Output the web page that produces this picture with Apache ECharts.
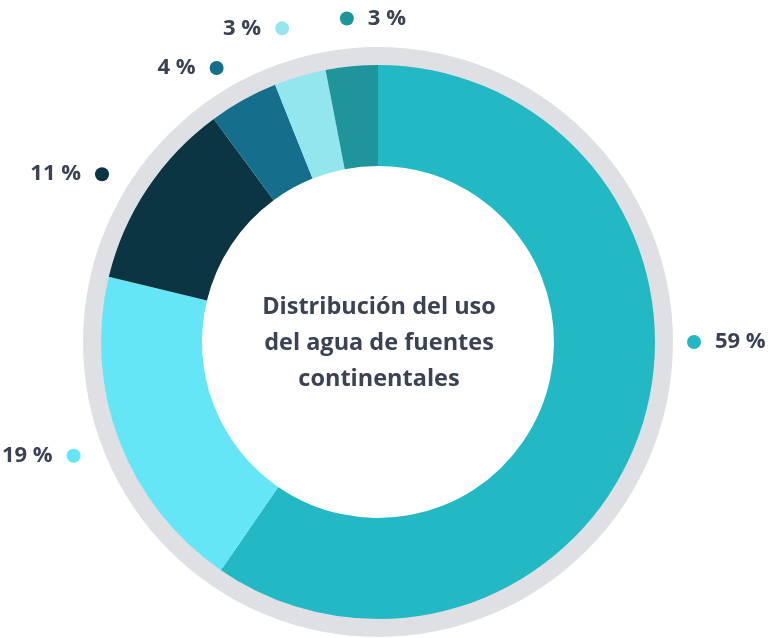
<!DOCTYPE html>
<html>
<head>
<meta charset="utf-8">
<script src="https://cdn.jsdelivr.net/npm/echarts@6/dist/echarts.min.js"></script>
<style>
html,body{margin:0;padding:0;background:#fff;}
#c{width:768px;height:638px;}
</style>
</head>
<body>
<div id="c"></div>
<script>
// ---- data ----
const categories = ['Uso 1', 'Uso 2', 'Uso 3', 'Uso 4', 'Uso 5', 'Uso 6'];
const values = [59, 19, 11, 4, 3, 3];
const colors = ['#22B8C4', '#64E6F7', '#0B3543', '#166E8D', '#93E6EE', '#1F959B'];
const centerTitle = 'Distribución del uso\ndel agua de fuentes\ncontinentales';

// ---- layout config (label placement around the ring) ----
const CX = 378, CY = 342;
const labelRadii = [316, 325, 323, 318, 328, 325];
const labelAngles = [0, 200.5, 148.7, 120.5, 107, 95.5];   // degrees, counter-clockwise from +x
const labelTextRight = [true, false, false, false, false, true];

const textColor = '#3A4253';
const rich = {
  tl: {fontFamily: 'Open Sans', fontWeight: 'bold', fontSize: 22, color: textColor, padding: [0, 14, 0, 0], lineHeight: 26},
  tr: {fontFamily: 'Open Sans', fontWeight: 'bold', fontSize: 22, color: textColor, padding: [0, 0, 0, 14], lineHeight: 26}
};
colors.forEach((c, i) => {
  rich['d' + i] = {width: 14, height: 14, borderRadius: 7, backgroundColor: c};
});

const chart = echarts.init(document.getElementById('c'));
chart.setOption({
  animation: false,
  backgroundColor: '#ffffff',
  graphic: [{
    type: 'text',
    x: CX + 1,
    y: CY + 1,
    z: 100,
    style: {
      text: centerTitle,
      fill: textColor,
      font: 'bold 23.5px "Open Sans"',
      lineHeight: 36,
      align: 'center',
      verticalAlign: 'middle'
    }
  }],
  series: [
    {
      type: 'pie',
      silent: true,
      z: 1,
      center: [CX, CY],
      radius: [260, 295],
      label: {show: false},
      labelLine: {show: false},
      itemStyle: {color: '#DFE0E4'},
      data: [1]
    },
    {
      type: 'pie',
      z: 2,
      center: [CX, CY],
      radius: [176, 277],
      startAngle: 90,
      clockwise: true,
      avoidLabelOverlap: false,
      itemStyle: {borderWidth: 0},
      label: {
        show: true,
        position: 'outside',
        formatter: function (p) {
          const i = p.dataIndex;
          return labelTextRight[i]
            ? '{d' + i + '|}{tr|' + p.value + ' %}'
            : '{tl|' + p.value + ' %}{d' + i + '|}';
        },
        rich: rich
      },
      labelLine: {show: false},
      labelLayout: function (p) {
        const i = p.dataIndex;
        const a = labelAngles[i] * Math.PI / 180;
        const dx = CX + labelRadii[i] * Math.cos(a);
        const dy = CY - labelRadii[i] * Math.sin(a);
        return labelTextRight[i]
          ? {x: dx - 7, y: dy, align: 'left', verticalAlign: 'middle'}
          : {x: dx + 7, y: dy, align: 'right', verticalAlign: 'middle'};
      },
      data: categories.map((n, i) => ({name: n, value: values[i], itemStyle: {color: colors[i]}}))
    }
  ]
});
</script>
</body>
</html>
